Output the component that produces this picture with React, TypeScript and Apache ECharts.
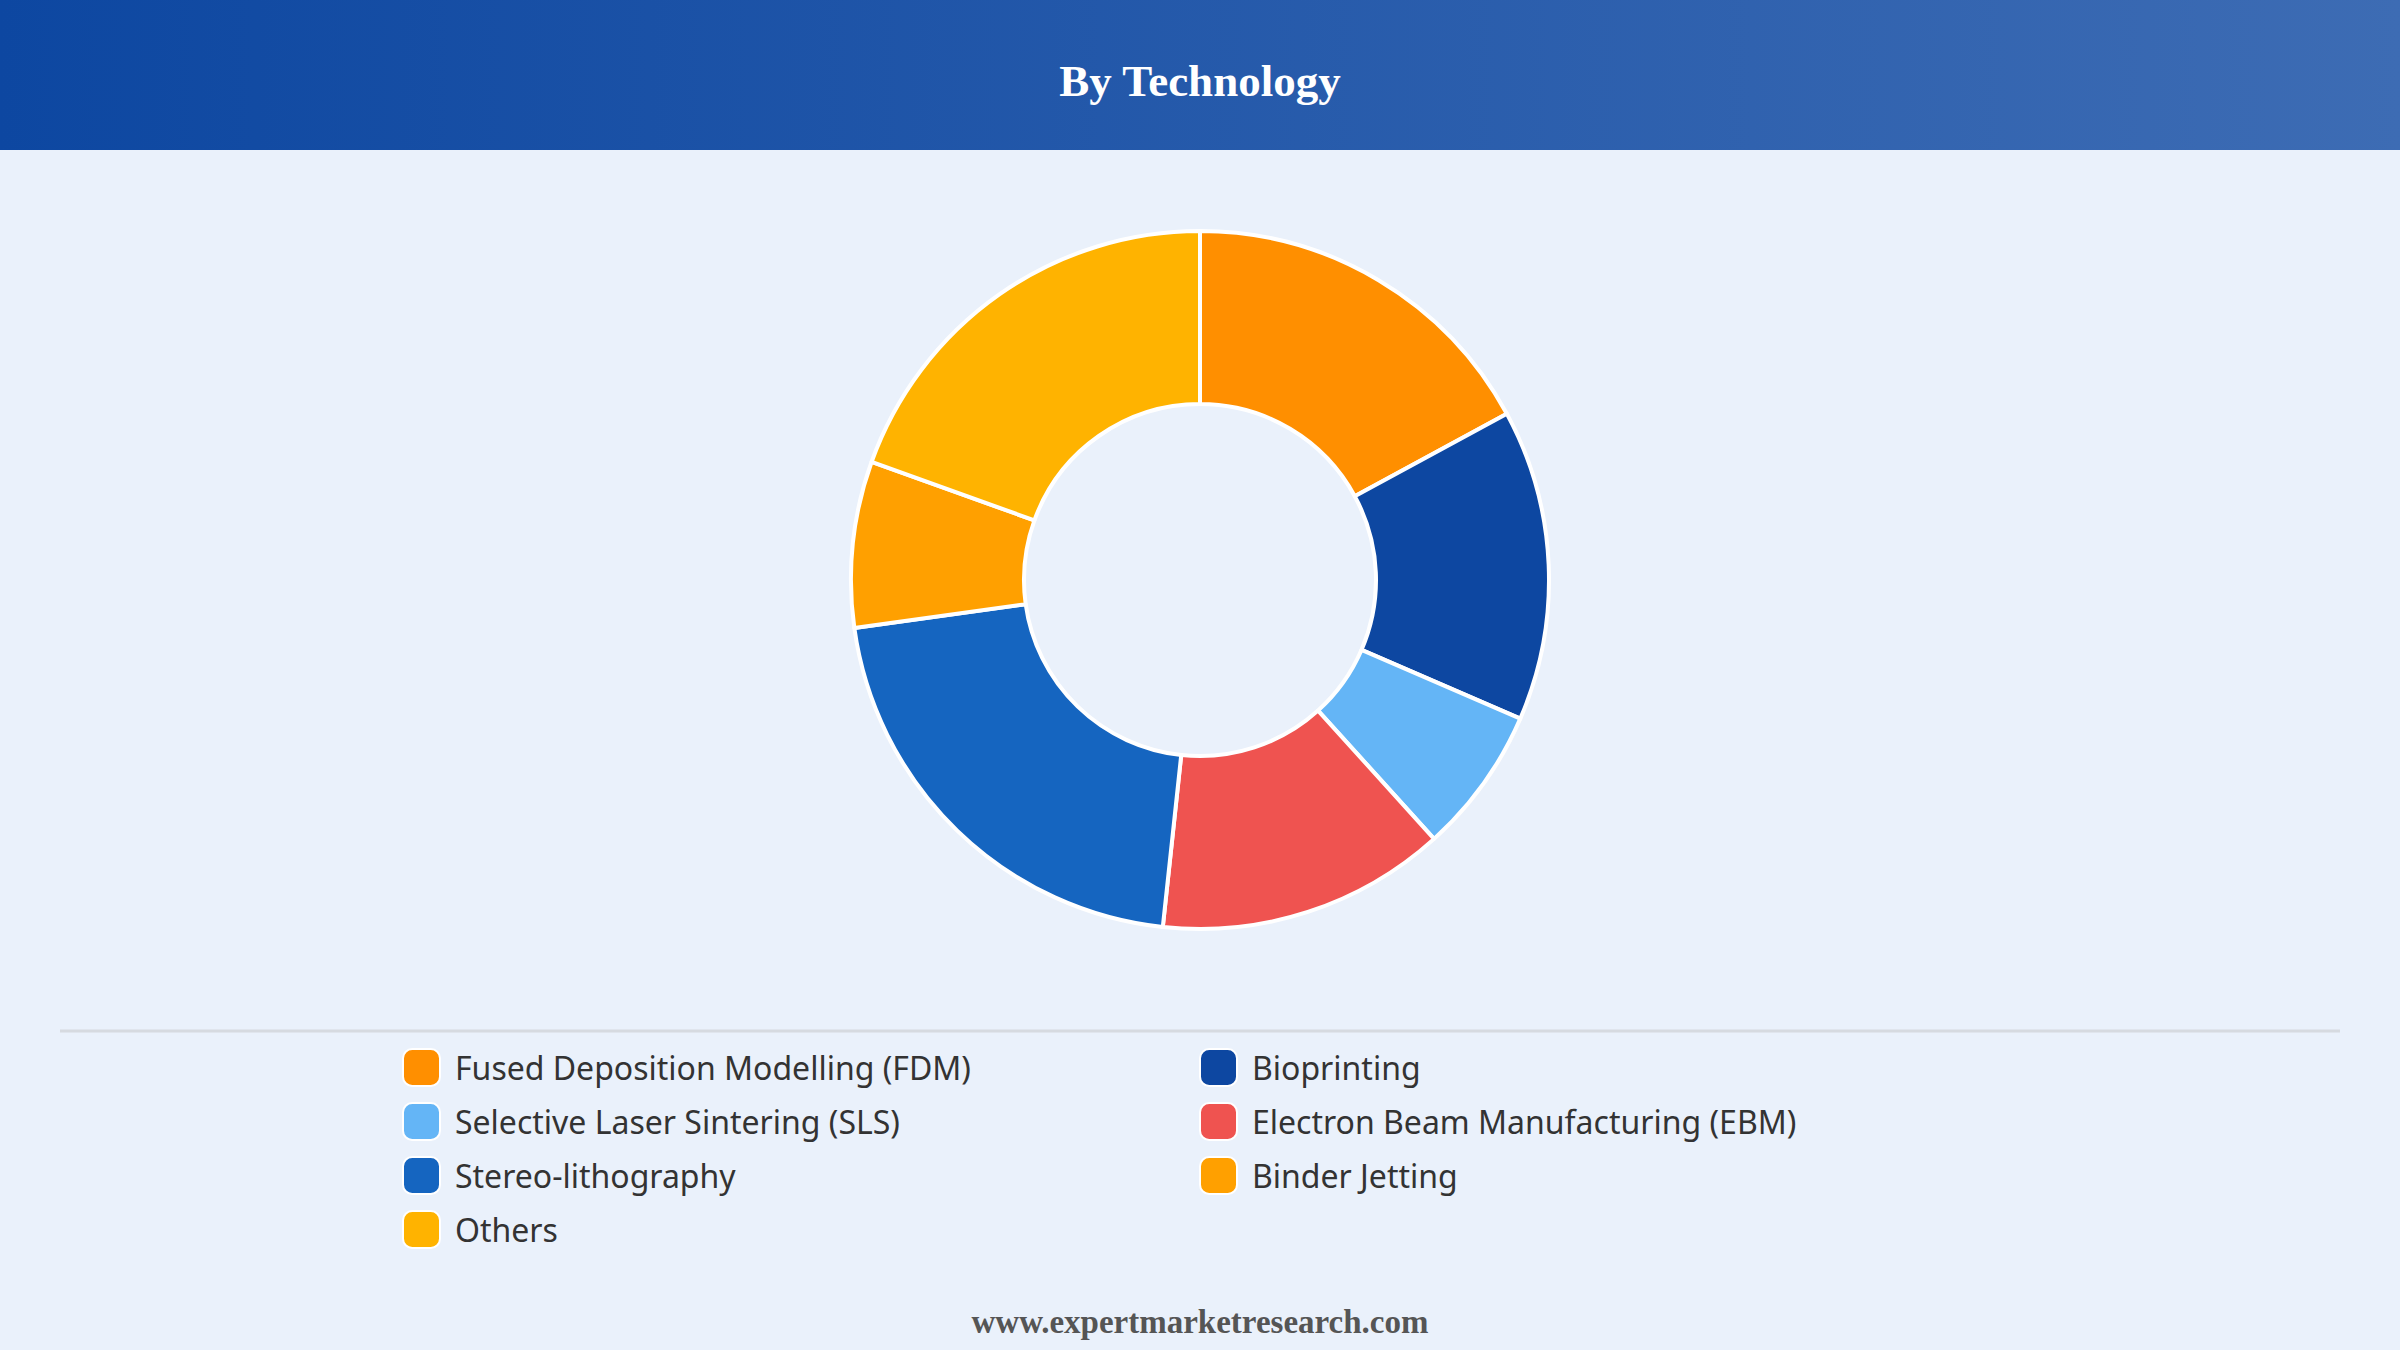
import React, { useEffect, useRef } from "react";
import * as echarts from "echarts";

const categories = [
  "Fused Deposition Modelling (FDM)",
  "Bioprinting",
  "Selective Laser Sintering (SLS)",
  "Electron Beam Manufacturing (EBM)",
  "Stereo-lithography",
  "Binder Jetting",
  "Others",
];
const values = [17.1, 14.4, 6.8, 13.4, 21.1, 7.7, 19.5];
const colors = ["#FF8F00", "#0D47A1", "#64B5F6", "#EF5350", "#1565C0", "#FFA000", "#FFB300"];
const legendLeft = [categories[0], categories[2], categories[4], categories[6]];
const legendRight = [categories[1], categories[3], categories[5]];
const title = "By Technology";
const footer = "www.expertmarketresearch.com";

export default function App() {
  const ref = useRef<HTMLDivElement>(null);
  useEffect(() => {
    document.body.style.margin = "0";
    const chart = echarts.init(ref.current!, undefined, { renderer: "svg" });
    const legendText = {
      fontFamily: "Noto Sans",
      fontSize: 32,
      color: "#333333",
      padding: [0, 0, 0, 10],
    };
    const legendBase = {
      orient: "vertical",
      top: 1048,
      itemWidth: 37,
      itemHeight: 37,
      itemGap: 15,
      icon: "roundRect",
      textStyle: legendText,
      selectedMode: false,
      padding: 0,
    };
    chart.setOption({
      animation: false,
      backgroundColor: "#EAF1FB",
      graphic: [
        {
          type: "rect",
          shape: { x: 0, y: 0, width: 2400, height: 150 },
          style: {
            fill: new echarts.graphic.LinearGradient(0, 0, 1, 0, [
              { offset: 0, color: "#0D47A1" },
              { offset: 1, color: "#3D6CB4" },
            ]),
          },
          z: 0,
        },
        {
          type: "text",
          x: 1200,
          y: 81,
          style: {
            text: title,
            fill: "#ffffff",
            font: "bold 45px 'Liberation Serif', 'Times New Roman', serif",
            align: "center",
            verticalAlign: "middle",
          },
        },
        {
          type: "line",
          shape: { x1: 60, y1: 1031, x2: 2340, y2: 1031 },
          style: { stroke: "#D6DAE0", lineWidth: 3 },
        },
        {
          type: "text",
          x: 1200,
          y: 1322,
          style: {
            text: footer,
            fill: "#555555",
            font: "bold 33px 'Liberation Serif', 'Times New Roman', serif",
            align: "center",
            verticalAlign: "middle",
          },
        },
      ],
      legend: [
        { ...legendBase, data: legendLeft, left: 402 },
        { ...legendBase, data: legendRight, left: 1199 },
      ],
      series: [
        {
          type: "pie",
          center: [1200, 580],
          radius: [176, 349],
          startAngle: 90,
          clockwise: true,
          label: { show: false },
          labelLine: { show: false },
          itemStyle: { borderColor: "#ffffff", borderWidth: 4 },
          emphasis: { disabled: true },
          data: categories.map((name, i) => ({
            name,
            value: values[i],
            itemStyle: { color: colors[i] },
          })),
        },
      ],
    });
    return () => chart.dispose();
  }, []);
  return <div ref={ref} style={{ width: 2400, height: 1350 }} />;
}
